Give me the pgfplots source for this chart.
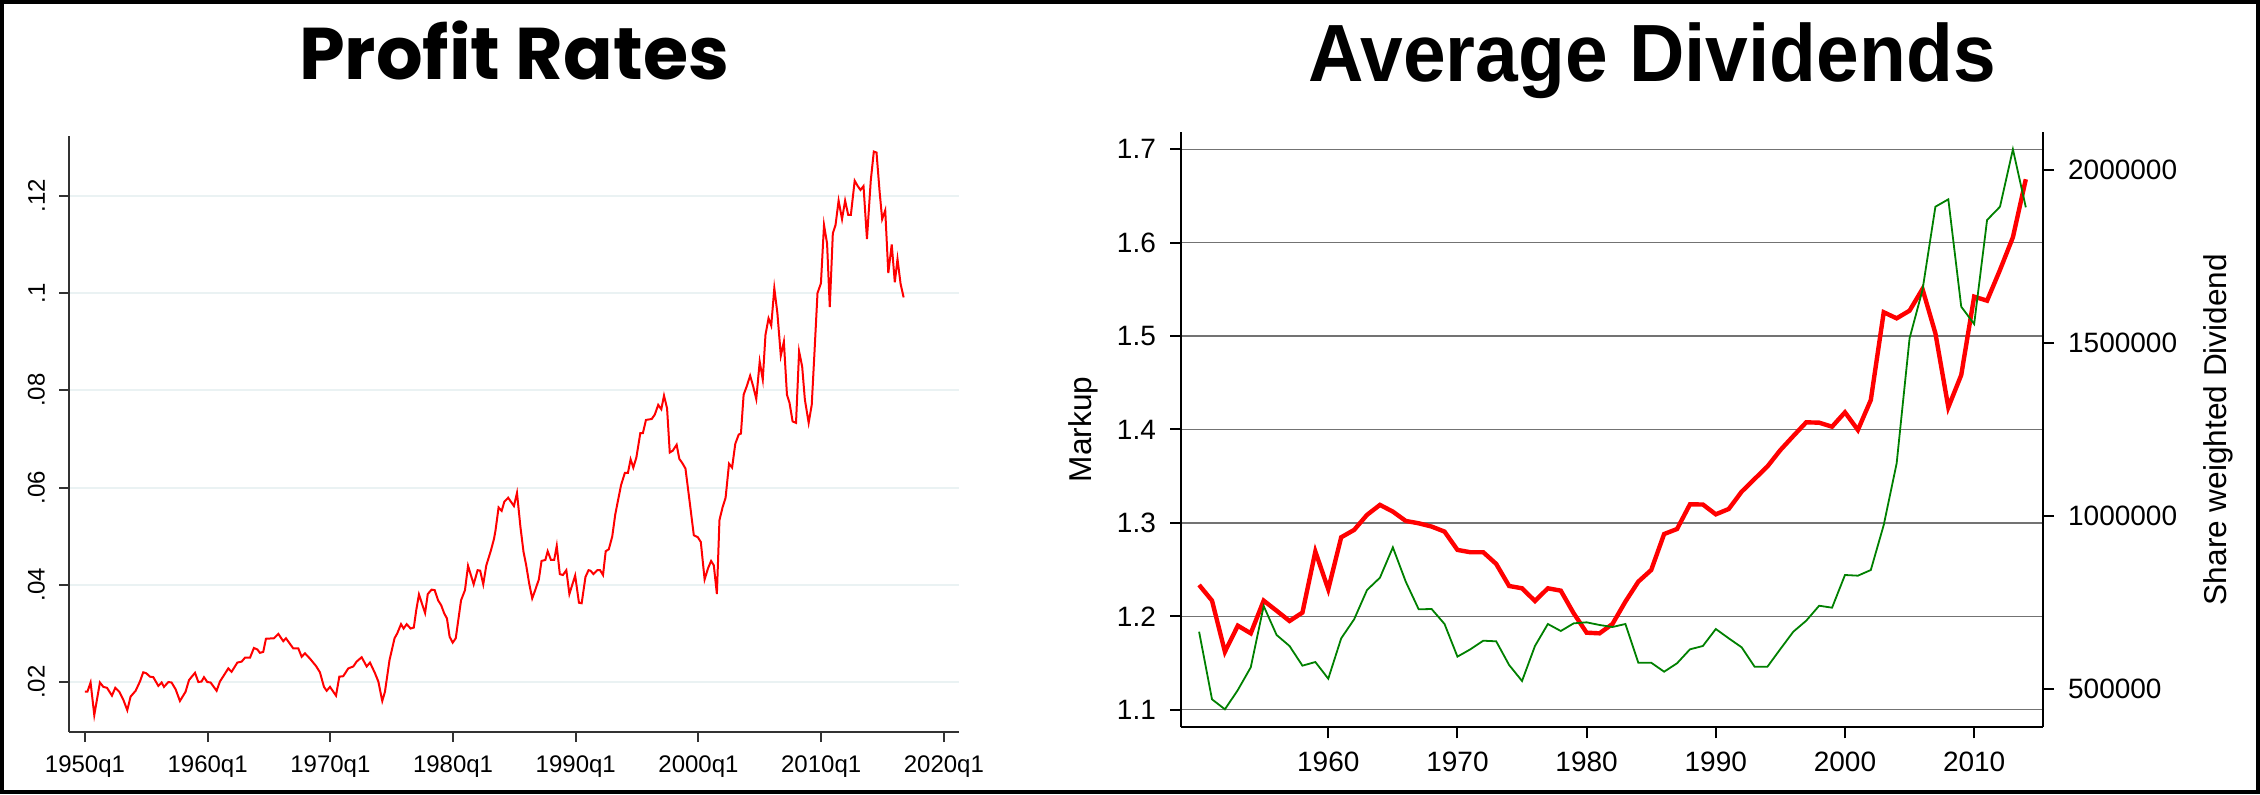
\documentclass[border=0pt]{standalone}
\usepackage{fontspec}
\setmainfont{Liberation Sans}
\newfontfamily\poppins{Poppins}
\usepackage{pgfplots}
\usepackage{pgfplotstable}
\pgfplotsset{compat=1.18}
\definecolor{lgrid}{RGB}{234,242,243}
\definecolor{dgreen}{RGB}{0,128,0}
\definecolor{axgray}{RGB}{50,50,50}

\pgfplotstableread{
year markup div
1950 1.2336 665600
1951 1.2168 470200
1952 1.1621 441300
1953 1.1900 497100
1954 1.1818 562700
1955 1.2168 739900
1956 1.2060 656100
1957 1.1950 624300
1958 1.2040 567400
1959 1.2693 578000
1960 1.2290 529800
1961 1.2846 646400
1962 1.2925 701300
1963 1.3086 786100
1964 1.3193 821700
1965 1.3121 909400
1966 1.3021 810100
1967 1.2996 730300
1968 1.2961 731200
1969 1.2907 687900
1970 1.2711 593500
1971 1.2686 614700
1972 1.2686 639600
1973 1.2561 637800
1974 1.2325 569400
1975 1.2300 523100
1976 1.2164 624300
1977 1.2300 687900
1978 1.2275 667600
1979 1.2032 689800
1980 1.1825 692700
1981 1.1818 685000
1982 1.1918 679200
1983 1.2157 687900
1984 1.2371 576000
1985 1.2496 576000
1986 1.2881 550000
1987 1.2935 574300
1988 1.3199 614700
1989 1.3197 624300
1990 1.3092 673400
1991 1.3149 646500
1992 1.3334 620500
1993 1.3470 564500
1994 1.3605 564500
1995 1.3780 615600
1996 1.3930 665600
1997 1.4077 697400
1998 1.4073 740700
1999 1.4030 735000
2000 1.4184 829500
2001 1.3995 827500
2002 1.4316 843900
2003 1.5255 974000
2004 1.5190 1152200
2005 1.5272 1513400
2006 1.5504 1653100
2007 1.5030 1893900
2008 1.4238 1915200
2009 1.4583 1604900
2010 1.5422 1554900
2011 1.5379 1855400
2012 1.5708 1893900
2013 1.6058 2059700
2014 1.6679 1892100
}\divtable

\pgfplotstableread{
t rate
1950.0 0.0180
1950.2 0.0180
1950.46 0.0199
1950.76 0.0132
1951.22 0.0199
1951.5 0.0190
1951.8 0.0188
1952.2 0.0172
1952.47 0.0188
1952.8 0.0180
1953.12 0.0164
1953.45 0.0142
1953.72 0.0170
1954.13 0.0182
1954.48 0.0201
1954.75 0.0220
1955.0 0.0218
1955.3 0.0211
1955.57 0.0210
1955.98 0.0192
1956.25 0.0199
1956.44 0.0190
1956.8 0.0200
1957.06 0.0199
1957.39 0.0185
1957.74 0.0161
1958.2 0.0180
1958.48 0.0204
1958.97 0.0219
1959.24 0.0200
1959.5 0.0201
1959.7 0.0210
1959.97 0.0200
1960.24 0.0199
1960.73 0.0182
1961.0 0.0201
1961.33 0.0214
1961.68 0.0228
1961.95 0.0221
1962.42 0.0240
1962.77 0.0242
1963.04 0.0250
1963.45 0.0250
1963.77 0.0270
1964.05 0.0267
1964.26 0.0260
1964.53 0.0262
1964.75 0.0289
1965.4 0.0290
1965.76 0.0299
1966.16 0.0284
1966.38 0.0290
1966.98 0.0269
1967.39 0.0269
1967.66 0.0252
1967.93 0.0259
1968.34 0.0248
1968.83 0.0233
1969.15 0.0220
1969.48 0.0190
1969.7 0.0182
1969.97 0.0190
1970.46 0.0172
1970.73 0.0211
1971.05 0.0212
1971.46 0.0228
1971.87 0.0232
1972.14 0.0242
1972.55 0.0251
1972.96 0.0232
1973.23 0.0240
1973.64 0.0218
1973.91 0.0201
1974.23 0.0161
1974.45 0.0180
1974.82 0.0245
1975.23 0.0290
1975.45 0.0300
1975.76 0.0319
1975.97 0.0310
1976.22 0.0319
1976.54 0.0310
1976.8 0.0312
1977.0 0.0348
1977.22 0.0380
1977.72 0.0342
1977.94 0.0381
1978.25 0.0390
1978.5 0.0389
1978.78 0.0368
1979.03 0.0358
1979.28 0.0341
1979.5 0.0331
1979.72 0.0293
1979.97 0.0281
1980.22 0.0290
1980.65 0.0368
1980.97 0.0389
1981.22 0.0439
1981.68 0.0401
1982.0 0.0430
1982.21 0.0429
1982.46 0.0401
1982.71 0.0440
1983.09 0.0471
1983.34 0.0495
1983.46 0.0512
1983.71 0.0559
1983.96 0.0552
1984.18 0.0571
1984.49 0.0579
1984.96 0.0562
1985.21 0.0589
1985.49 0.0519
1985.74 0.0468
1985.96 0.0440
1986.2 0.0403
1986.45 0.0372
1986.68 0.0388
1986.99 0.0411
1987.21 0.0449
1987.52 0.0451
1987.71 0.0469
1987.98 0.0451
1988.24 0.0451
1988.45 0.0480
1988.7 0.0422
1988.95 0.0420
1989.23 0.0430
1989.48 0.0381
1989.95 0.0419
1990.26 0.0363
1990.48 0.0362
1990.79 0.0416
1991.04 0.0430
1991.2 0.0429
1991.44 0.0422
1991.76 0.0430
1991.98 0.0430
1992.22 0.0420
1992.44 0.0469
1992.69 0.0473
1992.97 0.0499
1993.22 0.0545
1993.69 0.0605
1994.0 0.0630
1994.25 0.0630
1994.47 0.0658
1994.69 0.0641
1994.94 0.0662
1995.26 0.0712
1995.47 0.0712
1995.72 0.0739
1996.19 0.0741
1996.44 0.0750
1996.72 0.0770
1996.97 0.0761
1997.19 0.0789
1997.44 0.0763
1997.66 0.0672
1997.91 0.0676
1998.22 0.0688
1998.44 0.0659
1998.69 0.0650
1998.94 0.0639
1999.25 0.0577
1999.62 0.0502
1999.94 0.0498
2000.19 0.0488
2000.5 0.0411
2000.78 0.0434
2001.03 0.0449
2001.25 0.0440
2001.5 0.0381
2001.71 0.0533
2001.96 0.0559
2002.21 0.0579
2002.49 0.0649
2002.74 0.0641
2003.0 0.0690
2003.28 0.0709
2003.46 0.0711
2003.68 0.0791
2003.93 0.0808
2004.21 0.0830
2004.46 0.0808
2004.71 0.0782
2004.99 0.0859
2005.24 0.0822
2005.46 0.0914
2005.71 0.0948
2005.93 0.0933
2006.18 0.1010
2006.43 0.0959
2006.71 0.0871
2006.96 0.0900
2007.21 0.0791
2007.42 0.0774
2007.67 0.0736
2007.95 0.0733
2008.2 0.0880
2008.45 0.0849
2008.67 0.0781
2008.98 0.0733
2009.23 0.0770
2009.45 0.0876
2009.7 0.1000
2009.98 0.1020
2010.23 0.1140
2010.48 0.1102
2010.7 0.0971
2010.95 0.1123
2011.17 0.1140
2011.42 0.1190
2011.7 0.1152
2011.95 0.1190
2012.2 0.1161
2012.42 0.1161
2012.73 0.1231
2012.98 0.1220
2013.2 0.1212
2013.45 0.1220
2013.73 0.1111
2014.04 0.1231
2014.29 0.1291
2014.51 0.1289
2014.76 0.1209
2014.97 0.1152
2015.22 0.1170
2015.47 0.1041
2015.75 0.1100
2016.0 0.1022
2016.22 0.1070
2016.47 0.1019
2016.72 0.0991
}\profittable

\begin{document}
\begin{tikzpicture}
\useasboundingbox (0,0) rectangle (565pt,198.5pt);
\draw[line width=1pt] (0.5pt,0.5pt) rectangle (564.5pt,198pt);

\node[anchor=base, font=\poppins\bfseries\fontsize{18.3}{20}\selectfont] at (128.5pt,178.5pt) {Profit Rates};
\node[anchor=base, xscale=0.945, font=\bfseries\fontsize{20.3}{22}\selectfont] at (413pt,178.1pt) {Average Dividends};

% Left panel
\begin{axis}[
  at={(17.25pt,15.5pt)}, anchor=south west,
  scale only axis, width=222.4pt, height=149pt,
  xmin=1948.7, xmax=2021.2, ymin=0.00972, ymax=0.1323,
  axis lines*=left,
  axis line style={line width=0.5pt, color=axgray},
  every tick/.style={line width=0.5pt, color=axgray},
  tick align=outside, major tick length=2.5pt,
  xtick={1950,1960,1970,1980,1990,2000,2010,2020},
  xticklabels={1950q1,1960q1,1970q1,1980q1,1990q1,2000q1,2010q1,2020q1},
  ytick={0.02,0.04,0.06,0.08,0.1,0.12},
  yticklabels={.02,.04,.06,.08,.1,.12},
  ymajorgrids, grid style={lgrid, line width=0.5pt},
  xticklabel style={font=\fontsize{6}{7}\selectfont},
  yticklabel style={font=\fontsize{6}{7}\selectfont, rotate=90, anchor=south},
]
\addplot[red, line width=0.5pt] table[x=t, y=rate] {\profittable};
\end{axis}

% Right panel, left axis
\begin{axis}[
  at={(295.25pt,16.675pt)}, anchor=south west,
  scale only axis, width=215.5pt, height=148.9pt,
  xmin=1948.6, xmax=2015.33, ymin=1.0812, ymax=1.7188,
  axis x line*=bottom, axis y line*=left,
  axis line style={line width=0.5pt, color=black},
  every tick/.style={line width=0.5pt, color=black},
  tick align=outside, major tick length=2.75pt,
  xtick={1960,1970,1980,1990,2000,2010},
  xticklabels={1960,1970,1980,1990,2000,2010},
  ytick={1.1,1.2,1.3,1.4,1.5,1.6,1.7},
  yticklabels={1.1,1.2,1.3,1.4,1.5,1.6,1.7},
  ymajorgrids, grid style={black!55, line width=0.35pt},
  xticklabel style={font=\fontsize{7}{8}\selectfont},
  yticklabel style={font=\fontsize{7}{8}\selectfont},
  every axis y label/.style={at={(rel axis cs:0,0.5)}, rotate=90, anchor=center, yshift=24.5pt, font=\fontsize{7.9}{9}\selectfont},
  ylabel={Markup},
]
\addplot[red, line width=1.1pt] table[x=year, y=markup] {\divtable};
\end{axis}

% Right panel, right axis
\begin{axis}[
  at={(295.25pt,16.675pt)}, anchor=south west,
  scale only axis, width=215.5pt, height=148.9pt,
  xmin=1948.6, xmax=2015.33, ymin=389300, ymax=2110700,
  axis x line=none, axis y line*=right,
  axis line style={line width=0.5pt, color=black},
  every tick/.style={line width=0.5pt, color=black},
  tick align=outside, major tick length=2.75pt,
  ytick={500000,1000000,1500000,2000000},
  yticklabels={500000,1000000,1500000,2000000},
  scaled y ticks=false,
  yticklabel style={font=\fontsize{7}{8}\selectfont},
  every axis y label/.style={at={(rel axis cs:1,0.5)}, rotate=90, anchor=center, yshift=-43.75pt, font=\fontsize{7.9}{9}\selectfont},
  ylabel={Share weighted Dividend},
]
\addplot[dgreen, line width=0.45pt] table[x=year, y=div] {\divtable};
\end{axis}
\end{tikzpicture}
\end{document}
